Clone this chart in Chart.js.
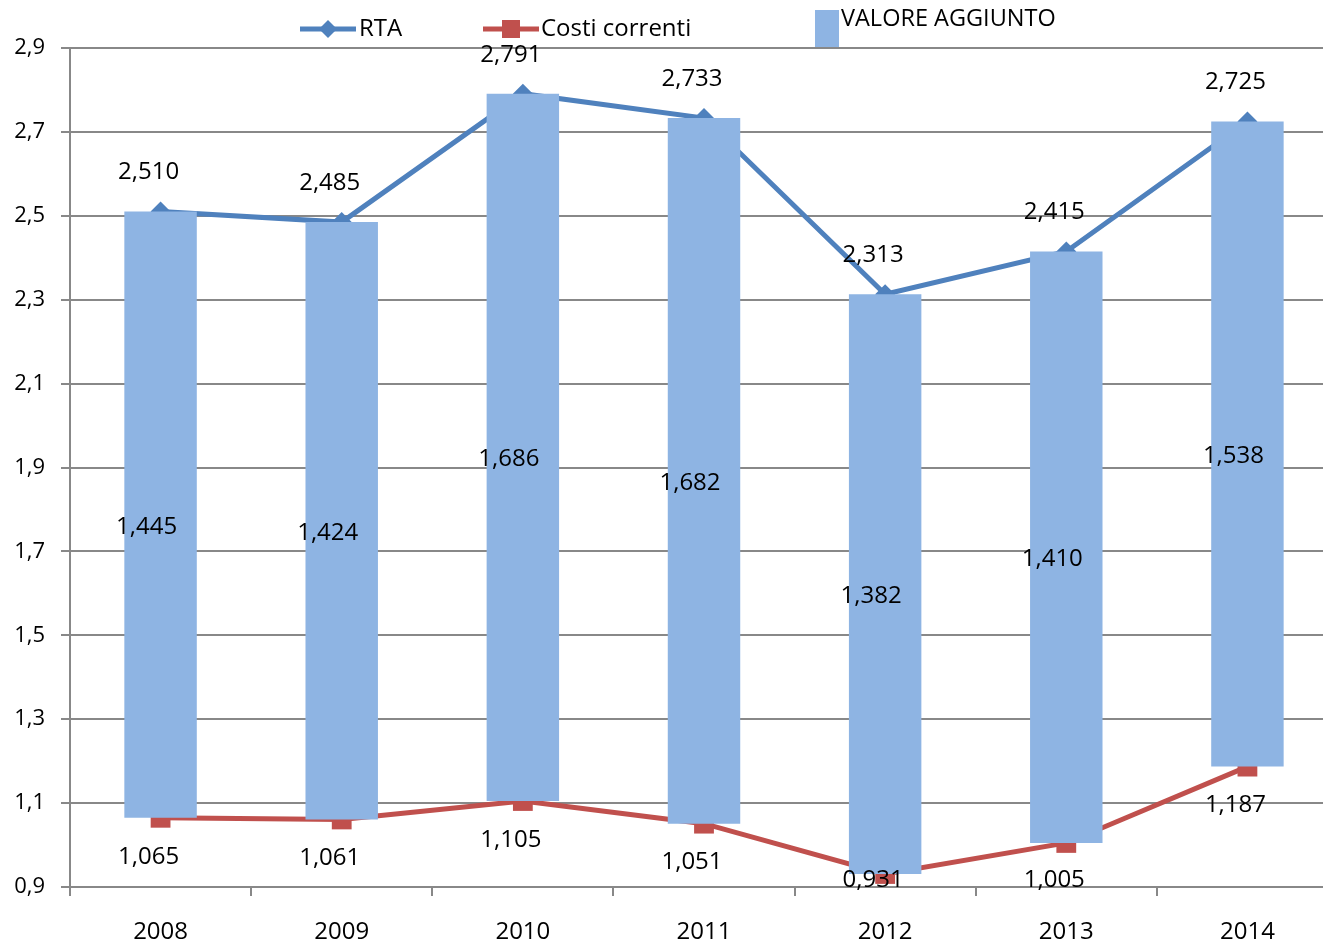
<!DOCTYPE html>
<html>
<head>
<meta charset="utf-8">
<script src="https://cdn.jsdelivr.net/npm/chart.js@4"></script>
<style>
  html, body { margin: 0; padding: 0; overflow: hidden; background: #fff; }
  #wrap { width: 1352px; height: 943px; }
</style>
</head>
<body>
<div id="wrap"><canvas id="chart" width="1352" height="943"></canvas></div>
<script>
// Data
const years = ['2008', '2009', '2010', '2011', '2012', '2013', '2014'];
const rta = [2.510, 2.485, 2.791, 2.733, 2.313, 2.415, 2.725];
const costi = [1.065, 1.061, 1.105, 1.051, 0.931, 1.005, 1.187];
const valoreAggiunto = [1.445, 1.424, 1.686, 1.682, 1.382, 1.410, 1.538];
const yTicks = [0.9, 1.1, 1.3, 1.5, 1.7, 1.9, 2.1, 2.3, 2.5, 2.7, 2.9];

const BLUE = '#4F81BD';
const RED = '#C0504D';
const BAR = '#8EB4E3';
const GRID = '#888888';
const FONT = "'Open Sans', 'Noto Sans', sans-serif";

Chart.defaults.font.family = FONT;
Chart.defaults.color = '#000';

function fmt(v, d) {
    return v.toFixed(d).replace('.', ',');
}

// Value labels on points and bars
const valueLabels = {
    id: 'valueLabels',
    afterDatasetsDraw(chart) {
        const ctx = chart.ctx;
        const bottom = chart.chartArea.bottom;
        ctx.save();
        ctx.font = '24px ' + FONT;
        ctx.fillStyle = '#000';
        ctx.textAlign = 'center';
        ctx.textBaseline = 'middle';

        chart.getDatasetMeta(0).data.forEach((p, i) => {
            ctx.fillText(fmt(rta[i], 3), p.x - 12, p.y - 39);
        });
        chart.getDatasetMeta(1).data.forEach((p, i) => {
            ctx.fillText(fmt(costi[i], 3), p.x - 12, Math.min(p.y + 39, bottom - 7));
        });
        chart.getDatasetMeta(2).data.forEach((b, i) => {
            ctx.fillText(fmt(valoreAggiunto[i], 3), b.x - 14, (b.y + b.base) / 2 + 12);
        });
        ctx.restore();
    }
};

// Legend laid out like the original (spread across the top)
const topLegend = {
    id: 'topLegend',
    afterDraw(chart) {
        const ctx = chart.ctx;
        ctx.save();
        ctx.lineWidth = 5;

        // RTA
        ctx.strokeStyle = BLUE;
        ctx.beginPath();
        ctx.moveTo(300, 29);
        ctx.lineTo(356, 29);
        ctx.stroke();
        ctx.fillStyle = BLUE;
        ctx.beginPath();
        ctx.moveTo(328 - 9, 29);
        ctx.lineTo(328, 29 - 9);
        ctx.lineTo(328 + 9, 29);
        ctx.lineTo(328, 29 + 9);
        ctx.closePath();
        ctx.fill();

        // Costi correnti
        ctx.strokeStyle = RED;
        ctx.beginPath();
        ctx.moveTo(483, 29);
        ctx.lineTo(539, 29);
        ctx.stroke();
        ctx.fillStyle = RED;
        ctx.fillRect(502, 20, 18, 18);

        // VALORE AGGIUNTO
        ctx.fillStyle = BAR;
        ctx.fillRect(815, 10, 24, 37);

        ctx.fillStyle = '#000';
        ctx.font = '24px ' + FONT;
        ctx.textAlign = 'left';
        ctx.textBaseline = 'middle';
        ctx.fillText('RTA', 359, 29);
        ctx.fillText('Costi correnti', 541, 29);
        ctx.font = '23.5px ' + FONT;
        ctx.fillText('VALORE AGGIUNTO', 841, 19);
        ctx.restore();
    }
};

new Chart(document.getElementById('chart'), {
    data: {
        labels: years,
        datasets: [
            {
                type: 'line',
                label: 'RTA',
                data: rta,
                borderColor: BLUE,
                backgroundColor: BLUE,
                borderWidth: 5,
                pointStyle: 'rectRot',
                pointRadius: 10,
                pointBorderWidth: 0,
                pointBackgroundColor: BLUE,
                tension: 0,
                order: 2
            },
            {
                type: 'line',
                label: 'Costi correnti',
                data: costi,
                borderColor: RED,
                backgroundColor: RED,
                borderWidth: 5,
                pointStyle: 'rect',
                pointRadius: 14,
                pointBorderWidth: 0,
                pointBackgroundColor: RED,
                tension: 0,
                order: 3
            },
            {
                type: 'bar',
                label: 'VALORE AGGIUNTO',
                data: costi.map((c, i) => [c, rta[i]]),
                backgroundColor: BAR,
                borderWidth: 0,
                barPercentage: 0.4,
                categoryPercentage: 1,
                order: 1
            }
        ]
    },
    options: {
        responsive: false,
        animation: false,
        devicePixelRatio: 1,
        layout: { padding: { top: 48, right: 1, left: 0, bottom: 0 } },
        plugins: {
            legend: { display: false },
            tooltip: { enabled: false }
        },
        scales: {
            x: {
                type: 'category',
                offset: true,
                afterFit(scale) { scale.height = 56; },
                grid: {
                    offset: true,
                    drawOnChartArea: false,
                    drawTicks: true,
                    tickLength: 9,
                    color: GRID,
                    lineWidth: 2
                },
                border: { display: true, color: GRID, width: 2 },
                ticks: { font: { size: 24 }, color: '#000', padding: 22, maxRotation: 0 }
            },
            y: {
                min: 0.9,
                max: 2.9,
                afterFit(scale) { scale.width = 70; },
                afterBuildTicks(scale) { scale.ticks = yTicks.map(v => ({ value: v })); },
                grid: { color: GRID, lineWidth: 2, tickLength: 9 },
                border: { display: true, color: GRID, width: 2 },
                ticks: {
                    font: { size: 22 },
                    color: '#000',
                    padding: 16,
                    callback: v => fmt(v, 1)
                }
            }
        }
    },
    plugins: [valueLabels, topLegend]
});
</script>
</body>
</html>
